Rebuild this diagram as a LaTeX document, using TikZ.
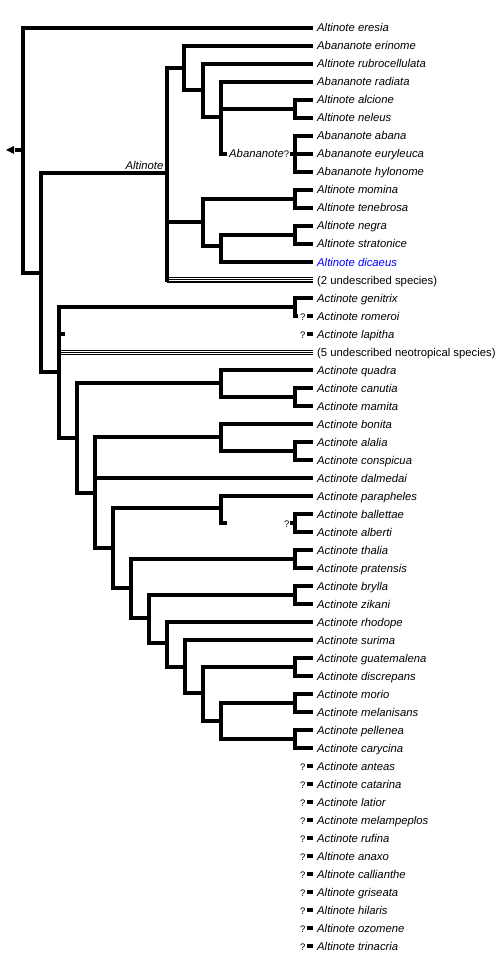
\documentclass[tikz,border=0pt]{standalone}
\usepackage{fontspec}
\setmainfont{Liberation Sans}
\definecolor{lnk}{RGB}{0,0,255}
\newcommand\pairclade[3]{%
  \draw[vt] (#1|-e#2) -- (#1|-e#3);
  \draw[hz] (#1|-e#2) -- (e#2);
  \draw[hz] (#1|-e#3) -- (e#3);}
\begin{document}
\begin{tikzpicture}[x=1pt,y=-1pt,
  hz/.style={line width=4pt, line cap=butt},
  vt/.style={line width=4pt, line cap=rect},
  lab/.style={anchor=base west, inner sep=0pt, font=\fontsize{11.3}{13}\selectfont\itshape},
  plainlab/.style={anchor=base west, inner sep=0pt, font=\fontsize{11.3}{13}\selectfont},
  qm/.style={anchor=base east, inner sep=0pt, font=\fontsize{9.5}{11}\selectfont},
  triple/.style={line width=1pt, double=white, double distance=3pt},
  midline/.style={line width=1pt}]
\useasboundingbox[fill=white] (0,0) rectangle (498,957);

% tip ends
\foreach \i in {0,...,51} { \coordinate (e\i) at (313, 28+18*\i); }

% tip labels
\foreach \i/\nm in {0/Altinote eresia, 1/Abananote erinome, 2/Altinote rubrocellulata,
  3/Abananote radiata, 4/Altinote alcione, 5/Altinote neleus, 6/Abananote abana,
  7/Abananote euryleuca, 8/Abananote hylonome, 9/Altinote momina, 10/Altinote tenebrosa,
  11/Altinote negra, 12/Altinote stratonice, 15/Actinote genitrix, 16/Actinote romeroi,
  17/Actinote lapitha, 19/Actinote quadra, 20/Actinote canutia, 21/Actinote mamita,
  22/Actinote bonita, 23/Actinote alalia, 24/Actinote conspicua, 25/Actinote dalmedai,
  26/Actinote parapheles, 27/Actinote ballettae, 28/Actinote alberti, 29/Actinote thalia,
  30/Actinote pratensis, 31/Actinote brylla, 32/Actinote zikani, 33/Actinote rhodope,
  34/Actinote surima, 35/Actinote guatemalena, 36/Actinote discrepans, 37/Actinote morio,
  38/Actinote melanisans, 39/Actinote pellenea, 40/Actinote carycina, 41/Actinote anteas,
  42/Actinote catarina, 43/Actinote latior, 44/Actinote melampeplos, 45/Actinote rufina,
  46/Altinote anaxo, 47/Altinote callianthe, 48/Altinote griseata, 49/Altinote hilaris,
  50/Altinote ozomene, 51/Altinote trinacria}
  { \node[lab] (t\i) at (317, 32+18*\i) {\nm}; }
\node[lab, text=lnk] (t13) at (317, 266) {Altinote dicaeus};
\node[plainlab] (t14) at (317, 284) {(2 undescribed species)};
\node[plainlab] (t18) at (317, 356) {(5 undescribed neotropical species)};

% unplaced taxa: ? and dash
\foreach \i in {16,17,41,42,43,44,45,46,47,48,49,50,51} {
  \node[qm] (q\i) at (305.5, 32+18*\i) {?};
  \draw[hz] ([xshift=1.5pt]q\i.east |- e\i) -- (e\i);
}

% internal nodes
\coordinate (nR) at (23,150);
\coordinate (nA) at (41,273);
\coordinate (nAlt) at (167,173);
\coordinate (na1) at (184,68);
\coordinate (na11) at (203,90);
\coordinate (na111) at (221,117);
\coordinate (na1111) at (295,109);
\coordinate (nabn) at (295,154);
\coordinate (na2) at (203,222);
\coordinate (na21) at (295,199);
\coordinate (na22) at (221,246);
\coordinate (na221) at (295,235);
\coordinate (nAct) at (59,372);
\coordinate (ng) at (295,307);
\coordinate (nb) at (77,438);
\coordinate (nb1) at (221,383);
\coordinate (nb11) at (295,397);
\coordinate (nc) at (95,493);
\coordinate (nc1) at (221,437);
\coordinate (nc11) at (295,451);
\coordinate (nd) at (113,548);
\coordinate (nd1) at (221,508);
\coordinate (nd11) at (295,523);
\coordinate (ne) at (131,588);
\coordinate (ne1) at (295,559);
\coordinate (nf) at (149,618);
\coordinate (nf1) at (295,595);
\coordinate (nh) at (167,643);
\coordinate (ni) at (185,667);
\coordinate (nj) at (203,693);
\coordinate (nj1) at (295,667);
\coordinate (nk) at (221,721);
\coordinate (nk1) at (295,703);
\coordinate (nk2) at (295,739);
% free ends
\coordinate (arrowtip) at (6,150);
\coordinate (rstub) at (15,150);
\coordinate (abstub) at (227,154);
\coordinate (romstub) at (298,316);
\coordinate (lapstub) at (65,334);
\coordinate (dstub) at (227,523);

% root
\fill (arrowtip) -- ++(8,-4) -- ++(0,8) -- cycle;
\draw[hz] (rstub) -- (nR);
\draw[vt] (nR|-e0) -- (nR|-nA);
\draw[hz] (nR|-e0) -- (e0);
\draw[hz] (nR|-nA) -- (nA);

\draw[vt] (nA|-nAlt) -- (nA|-nAct);
\draw[hz] (nA|-nAlt) -- (nAlt);
\draw[hz] (nA|-nAct) -- (nAct);

% Altinote
\node[lab, anchor=base east] (altlab) at (163.5,169.5) {Altinote};
\draw[triple] (nAlt|-e14) -- (e14);
\draw[midline] (nAlt|-e14) -- (e14);
\draw[vt] (nAlt|-na1) -- (nAlt|-e14);
\draw[hz] (nAlt|-na1) -- (na1);
\draw[hz] (nAlt|-na2) -- (na2);

\draw[vt] (na1|-e1) -- (na1|-na11);
\draw[hz] (na1|-e1) -- (e1);
\draw[hz] (na1|-na11) -- (na11);

\draw[vt] (na11|-e2) -- (na11|-na111);
\draw[hz] (na11|-e2) -- (e2);
\draw[hz] (na11|-na111) -- (na111);

\draw[vt] (na111|-e3) -- (na111|-nabn);
\draw[hz] (na111|-e3) -- (e3);
\draw[hz] (na111|-na1111) -- (na1111);
\pairclade{na1111}{4}{5}
\node[anchor=base west, inner sep=0pt] (abnlab) at (229,158)
  {\fontsize{11.3}{13}\selectfont\itshape Abananote\upshape\fontsize{9.5}{11}\selectfont ?};
\draw[hz] (na111|-nabn) -- (abstub);
\draw[hz] ([xshift=1pt]abnlab.east|-nabn) -- (nabn);
\draw[vt] (nabn|-e6) -- (nabn|-e8);
\draw[hz] (nabn|-e6) -- (e6);
\draw[hz] (nabn|-e7) -- (e7);
\draw[hz] (nabn|-e8) -- (e8);

\draw[vt] (na2|-na21) -- (na2|-na22);
\draw[hz] (na2|-na21) -- (na21);
\draw[hz] (na2|-na22) -- (na22);
\pairclade{na21}{9}{10}
\draw[vt] (na22|-na221) -- (na22|-e13);
\draw[hz] (na22|-na221) -- (na221);
\draw[hz] (na22|-e13) -- (e13);
\pairclade{na221}{11}{12}

% Actinote
\draw[triple] (nAct|-e18) -- (e18);
\draw[midline] (nAct|-e18) -- (e18);
\draw[vt] (nAct|-ng) -- (nAct|-nb);
\draw[hz] (nAct|-ng) -- (ng);
\draw[hz] (nAct|-lapstub) -- (lapstub);
\draw[hz] (nAct|-nb) -- (nb);

\draw[vt] (ng|-e15) -- (ng|-e16);
\draw[hz] (ng|-e15) -- (e15);
\draw[hz] (ng|-e16) -- (romstub);

\draw[vt] (nb|-nb1) -- (nb|-nc);
\draw[hz] (nb|-nb1) -- (nb1);
\draw[hz] (nb|-nc) -- (nc);
\draw[vt] (nb1|-e19) -- (nb1|-nb11);
\draw[hz] (nb1|-e19) -- (e19);
\draw[hz] (nb1|-nb11) -- (nb11);
\pairclade{nb11}{20}{21}

\draw[vt] (nc|-nc1) -- (nc|-nd);
\draw[hz] (nc|-nc1) -- (nc1);
\draw[hz] (nc|-e25) -- (e25);
\draw[hz] (nc|-nd) -- (nd);
\draw[vt] (nc1|-e22) -- (nc1|-nc11);
\draw[hz] (nc1|-e22) -- (e22);
\draw[hz] (nc1|-nc11) -- (nc11);
\pairclade{nc11}{23}{24}

\draw[vt] (nd|-nd1) -- (nd|-ne);
\draw[hz] (nd|-nd1) -- (nd1);
\draw[hz] (nd|-ne) -- (ne);
\draw[vt] (nd1|-e26) -- (nd1|-nd11);
\draw[hz] (nd1|-e26) -- (e26);
\draw[hz] (nd1|-nd11) -- (dstub);
\node[qm] (qd) at (289.5,527) {?};
\draw[hz] ([xshift=0.5pt]qd.east|-nd11) -- (nd11);
\pairclade{nd11}{27}{28}

\draw[vt] (ne|-ne1) -- (ne|-nf);
\draw[hz] (ne|-ne1) -- (ne1);
\draw[hz] (ne|-nf) -- (nf);
\pairclade{ne1}{29}{30}

\draw[vt] (nf|-nf1) -- (nf|-nh);
\draw[hz] (nf|-nf1) -- (nf1);
\draw[hz] (nf|-nh) -- (nh);
\pairclade{nf1}{31}{32}

\draw[vt] (nh|-e33) -- (nh|-ni);
\draw[hz] (nh|-e33) -- (e33);
\draw[hz] (nh|-ni) -- (ni);

\draw[vt] (ni|-e34) -- (ni|-nj);
\draw[hz] (ni|-e34) -- (e34);
\draw[hz] (ni|-nj) -- (nj);

\draw[vt] (nj|-nj1) -- (nj|-nk);
\draw[hz] (nj|-nj1) -- (nj1);
\draw[hz] (nj|-nk) -- (nk);
\pairclade{nj1}{35}{36}

\draw[vt] (nk|-nk1) -- (nk|-nk2);
\draw[hz] (nk|-nk1) -- (nk1);
\draw[hz] (nk|-nk2) -- (nk2);
\pairclade{nk1}{37}{38}
\pairclade{nk2}{39}{40}
\end{tikzpicture}
\end{document}
